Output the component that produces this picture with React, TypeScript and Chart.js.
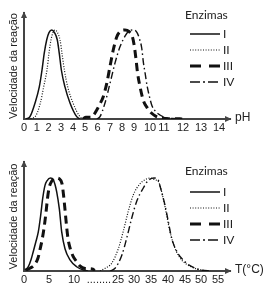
import React, { useEffect, useRef } from 'react';
import { Chart, registerables, LinearScale } from 'chart.js';

Chart.register(...registerables);

// ---------- tick labels ----------
const pHTickValues = [0, 1, 2, 3, 4, 5, 6, 7, 8, 9, 10, 11, 12, 13, 14];
const pHTickLabels = ['0', '1', '2', '3', '4', '5', '6', '7', '8', '9', '10', '11', '12', '13', '14'];

const tempTickValues = [0, 5, 10, 18.5, 25, 30, 35, 40, 45, 50, 55];
const tempTickLabels = ['0', '5', '10', '........', '25', '30', '35', '40', '45', '50', '55'];

const enzymeLabels = ['I', 'II', 'III', 'IV'];

// ---------- series: [x, reaction velocity] ----------
const pH_I: [number, number][] = [[0.16, 0], [0.47, 0.026], [0.87, 0.18], [1.22, 0.36], [1.45, 0.55], [1.64, 0.74], [1.85, 0.89], [2.04, 0.97], [2.26, 1.0], [2.48, 0.97], [2.7, 0.89], [2.86, 0.74], [3.03, 0.55], [3.33, 0.36], [3.75, 0.18], [4.31, 0.026], [4.58, 0]];
const pH_II: [number, number][] = [[0.31, 0], [0.87, 0.026], [1.31, 0.18], [1.59, 0.36], [1.87, 0.55], [2.04, 0.74], [2.2, 0.89], [2.36, 0.97], [2.52, 1.0], [2.72, 0.97], [2.92, 0.89], [3.08, 0.74], [3.28, 0.55], [3.56, 0.36], [4.0, 0.18], [4.58, 0.026], [4.92, 0]];
const pH_III: [number, number][] = [[4.83, 0], [5.08, 0.02], [5.48, 0.02], [5.72, 0.05], [5.94, 0.1], [6.2, 0.17], [6.46, 0.25], [6.74, 0.4], [7.0, 0.59], [7.28, 0.78], [7.56, 0.92], [7.83, 0.98], [8.25, 1.0], [8.6, 0.98], [8.85, 0.93], [9.0, 0.84], [9.12, 0.68], [9.22, 0.52], [9.38, 0.36], [9.58, 0.21], [9.81, 0.13], [10.12, 0.064], [10.43, 0.03], [10.93, 0.008], [11.21, 0.004], [11.84, 0.004], [11.95, 0]];
const pH_IV: [number, number][] = [[5.96, 0], [6.2, 0.026], [6.6, 0.18], [7.0, 0.4], [7.42, 0.63], [7.83, 0.81], [8.25, 0.93], [8.58, 0.99], [8.96, 1.0], [9.19, 0.97], [9.34, 0.9], [9.48, 0.8], [9.59, 0.63], [9.69, 0.52], [9.81, 0.38], [9.94, 0.27], [10.14, 0.15], [10.43, 0.08], [10.71, 0.045], [11.1, 0.015], [11.47, 0.005], [12.0, 0]];

const temp_I: [number, number][] = [[0.2, 0.01], [0.86, 0.046], [1.4, 0.12], [1.86, 0.21], [2.4, 0.32], [2.86, 0.42], [3.34, 0.6], [3.74, 0.78], [4.2, 0.92], [4.6, 0.97], [5.3, 1.0], [5.86, 0.98], [6.2, 0.93], [6.54, 0.85], [7.06, 0.67], [7.54, 0.42], [8.2, 0.24], [9.2, 0.12], [10.9, 0.046], [13.2, 0.01], [14.8, 0]];
const temp_II: [number, number][] = [[18.9, 0], [20.6, 0.03], [22.85, 0.083], [25.1, 0.24], [26.6, 0.42], [28.2, 0.64], [29.8, 0.82], [31.8, 0.94], [33.2, 0.98], [34.7, 1.0], [36.2, 0.98], [37.2, 0.96], [38.6, 0.78], [39.6, 0.6], [40.6, 0.42], [42.1, 0.24], [44.0, 0.12], [46.9, 0.046], [50.2, 0.01], [52.8, 0]];
const temp_III: [number, number][] = [[0.4, 0.01], [1.2, 0.03], [2.0, 0.06], [2.8, 0.14], [3.2, 0.23], [3.6, 0.33], [4.0, 0.46], [4.4, 0.63], [4.7, 0.78], [5.0, 0.89], [5.6, 0.97], [6.4, 1.0], [7.1, 0.99], [7.6, 0.94], [7.9, 0.82], [8.2, 0.66], [8.5, 0.49], [8.8, 0.35], [9.2, 0.25], [9.8, 0.16], [10.7, 0.11], [12.0, 0.054], [13.8, 0.027], [16.5, 0.02], [17.0, 0]];
const temp_IV: [number, number][] = [[22.3, 0], [24.0, 0.03], [26.2, 0.17], [27.7, 0.35], [29.3, 0.57], [30.8, 0.75], [32.7, 0.89], [34.1, 0.97], [35.9, 1.0], [37.1, 0.98], [37.6, 0.92], [39.1, 0.71], [40.1, 0.53], [41.1, 0.35], [42.6, 0.21], [45.0, 0.1], [47.8, 0.035], [50.2, 0.01], [52.8, 0]];

// ---------- axis layout (hand-spaced, non-uniform axes of the original) ----------
const AXIS_LEN = 206;
const pHAnchorValues = pHTickValues;
const pHAnchorPx = [0, 12.7, 24.5, 37, 49, 61, 73.5, 86, 98, 110, 126, 140, 159, 177, 195];
const tempAnchorValues = [0, 5, 10, 25, 30, 35, 40, 45, 50, 55];
const tempAnchorPx = [0, 25, 50, 94, 110, 127, 144, 161, 177, 194];

// ---------- styles ----------
const INK = '#111';
const AXIS_COLOR = '#444';
const TEXT_COLOR = '#222';
const enzymeStyles = [
  { width: 1.5, dash: [] as number[], legendDash: [] as number[] },
  { width: 1.2, dash: [1, 1.6], legendDash: [1, 1.6] },
  { width: 3, dash: [8, 5], legendDash: [11, 8] },
  { width: 1.4, dash: [7, 3, 1.5, 3], legendDash: [10, 3, 2, 3] },
];

function interp(v: number, xs: number[], ys: number[]): number {
  const n = xs.length;
  if (v <= xs[0]) return ys[0] + ((v - xs[0]) * (ys[1] - ys[0])) / (xs[1] - xs[0]);
  for (let i = 1; i < n; i++) {
    if (v <= xs[i]) return ys[i - 1] + ((v - xs[i - 1]) * (ys[i] - ys[i - 1])) / (xs[i] - xs[i - 1]);
  }
  return ys[n - 1] + ((v - xs[n - 1]) * (ys[n - 1] - ys[n - 2])) / (xs[n - 1] - xs[n - 2]);
}

function makeAxis(axisId: string, tickValues: number[], anchorValues: number[], anchorPx: number[]) {
  class BrokenAxis extends (LinearScale as any) {
    static id = axisId;
    static defaults = {};
    buildTicks() {
      return tickValues.map((v) => ({ value: v }));
    }
    getPixelForValue(value: number) {
      if (value === null || value === undefined) return NaN;
      return (this as any).left + (interp(value, anchorValues, anchorPx) * (this as any).width) / AXIS_LEN;
    }
    getValueForPixel(pixel: number) {
      return interp(((pixel - (this as any).left) * AXIS_LEN) / (this as any).width, anchorPx, anchorValues);
    }
  }
  return BrokenAxis;
}

Chart.register(
  makeAxis('pHAxis', pHTickValues, pHAnchorValues, pHAnchorPx) as any,
  makeAxis('tempAxis', tempTickValues, tempAnchorValues, tempAnchorPx) as any
);

const decorPlugin = {
  id: 'decor',
  afterDraw(chart: any, _args: any, opts: any) {
    const { ctx, chartArea: a } = chart;
    ctx.save();
    // arrow heads
    ctx.fillStyle = AXIS_COLOR;
    ctx.beginPath();
    ctx.moveTo(a.left, a.top - 1.5);
    ctx.lineTo(a.left - 3, a.top + 5);
    ctx.lineTo(a.left + 3, a.top + 5);
    ctx.closePath();
    ctx.fill();
    ctx.beginPath();
    ctx.moveTo(a.right + 1.5, a.bottom);
    ctx.lineTo(a.right - 5, a.bottom - 3);
    ctx.lineTo(a.right - 5, a.bottom + 3);
    ctx.closePath();
    ctx.fill();
    // unit label
    ctx.fillStyle = TEXT_COLOR;
    ctx.font = '12px "Liberation Sans", Arial, sans-serif';
    ctx.textBaseline = 'middle';
    ctx.textAlign = 'left';
    ctx.fillText(opts.unit, a.right + 5, a.bottom - 1);
    // legend
    ctx.font = '12px Lato, "Open Sans", sans-serif';
    ctx.fillText(opts.legendTitle, 185, opts.titleY);
    chart.data.datasets.forEach((ds: any, i: number) => {
      const y = opts.rowY + i * 16;
      const st = enzymeStyles[i];
      ctx.strokeStyle = INK;
      ctx.lineWidth = st.width;
      ctx.setLineDash(st.legendDash);
      ctx.beginPath();
      ctx.moveTo(190, y);
      ctx.lineTo(220, y);
      ctx.stroke();
      ctx.setLineDash([]);
      ctx.fillStyle = TEXT_COLOR;
      ctx.fillText(ds.label, 223, y);
    });
    ctx.restore();
  },
};

type PanelProps = {
  height: number;
  axisType: string;
  tickLabels: string[];
  series: [number, number][][];
  yMax: number;
  padTop: number;
  xAxisHeight: number;
  tickPad: number;
  unit: string;
  titleY: number;
  rowY: number;
};

function Panel(p: PanelProps) {
  const ref = useRef<HTMLCanvasElement>(null);
  useEffect(() => {
    if (!ref.current) return;
    const chart = new Chart(ref.current, {
      type: 'line',
      data: {
        datasets: p.series.map((s, i) => ({
          label: enzymeLabels[i],
          data: s.map(([x, y]) => ({ x, y })),
          borderColor: INK,
          borderWidth: enzymeStyles[i].width,
          borderDash: enzymeStyles[i].dash,
          pointRadius: 0,
          fill: false,
          cubicInterpolationMode: 'monotone',
        })),
      },
      options: {
        responsive: false,
        devicePixelRatio: 1,
        animation: false,
        layout: { padding: { top: p.padTop, right: 42, left: 0, bottom: 0 } },
        plugins: {
          legend: { display: false },
          tooltip: { enabled: false },
          decor: { unit: p.unit, legendTitle: 'Enzimas', titleY: p.titleY, rowY: p.rowY },
        } as any,
        scales: {
          x: {
            type: p.axisType as any,
            position: 'bottom',
            grid: { display: false, drawTicks: false },
            border: { display: true, color: AXIS_COLOR, width: 2 },
            ticks: {
              autoSkip: false,
              maxRotation: 0,
              padding: p.tickPad,
              color: TEXT_COLOR,
              font: { family: '"Liberation Sans", Arial, sans-serif', size: 11 },
              callback: (_v: any, i: number) => p.tickLabels[i],
            },
            afterFit: (s: any) => {
              s.height = p.xAxisHeight;
            },
          } as any,
          y: {
            type: 'linear',
            min: 0,
            max: p.yMax,
            grid: { display: false, drawTicks: false },
            border: { display: true, color: AXIS_COLOR, width: 2 },
            ticks: { display: false },
            title: {
              display: true,
              text: 'Velocidade da reação',
              color: TEXT_COLOR,
              font: { family: '"Liberation Sans", Arial, sans-serif', size: 11 },
              padding: { top: 7.4, bottom: 0 },
            },
            afterFit: (s: any) => {
              s.width = 24;
            },
          } as any,
        },
      },
      plugins: [decorPlugin],
    });
    return () => chart.destroy();
  }, []);
  return <canvas ref={ref} width={272} height={p.height} style={{ display: 'block' }} />;
}

export default function App() {
  return (
    <div style={{ position: 'absolute', left: 0, top: 0, width: 272, height: 291, background: '#fff' }}>
      <Panel
        height={145}
        axisType="pHAxis"
        tickLabels={pHTickLabels}
        series={[pH_I, pH_II, pH_III, pH_IV]}
        yMax={1.19}
        padTop={13}
        xAxisHeight={26}
        tickPad={2}
        unit="pH"
        titleY={15}
        rowY={34}
      />
      <Panel
        height={146}
        axisType="tempAxis"
        tickLabels={tempTickLabels}
        series={[temp_I, temp_II, temp_III, temp_IV]}
        yMax={1.172}
        padTop={17}
        xAxisHeight={20}
        tickPad={2}
        unit="T(°C)"
        titleY={26}
        rowY={47}
      />
    </div>
  );
}
